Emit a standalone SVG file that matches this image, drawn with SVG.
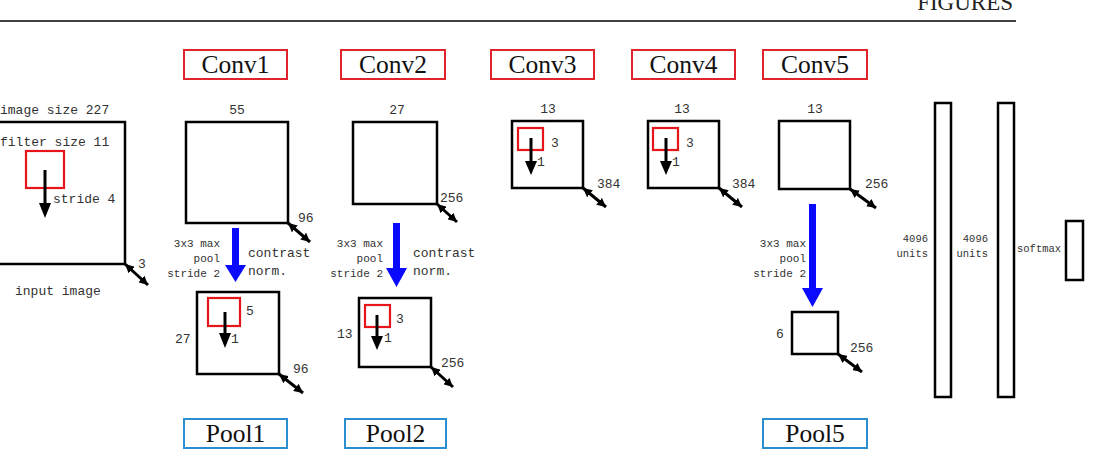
<svg xmlns="http://www.w3.org/2000/svg" width="1093" height="453" viewBox="0 0 1093 453">
<defs>
<marker id="ah" markerUnits="userSpaceOnUse" markerWidth="10" markerHeight="9" refX="9" refY="4.5" orient="auto-start-reverse">
<path d="M0,0 L9,4.5 L0,9 z" fill="#000"/>
</marker>
<style>
.lab{fill:#fff;stroke-width:2}
.conv{stroke:#e0242b}
.pool{stroke:#2a8fd0}
.labt{font-family:"Liberation Serif",serif;font-size:25.5px;fill:#111;text-anchor:middle}
.map{fill:none;stroke:#000;stroke-width:2.5}
.filt{fill:none;stroke:#e8141c;stroke-width:2.2}
.m{font-family:"Liberation Mono",monospace;font-size:13px;fill:#333}
.s{font-family:"Liberation Mono",monospace;font-size:11px;fill:#333}
.xs{font-family:"Liberation Mono",monospace;font-size:10.5px;fill:#333}
.dbl{stroke:#000;stroke-width:3;marker-start:url(#ah);marker-end:url(#ah)}
.stem{stroke:#000;stroke-width:3}
.blue{fill:#0a0aff}
</style>
</defs>
<rect width="1093" height="453" fill="#fff"/>
<g id="header">
<line x1="0" y1="21" x2="1016" y2="21" stroke="#000" stroke-width="1.5"/>
<text x="1013" y="10" text-anchor="end" font-family="Liberation Serif,serif" font-size="23" fill="#222">FIGURES</text>
</g>

<g id="label-conv1"><rect class="lab conv" x="184" y="50" width="103" height="29"/><text class="labt" x="235.5" y="73">Conv1</text></g>
<g id="label-conv2"><rect class="lab conv" x="341" y="50" width="104" height="29"/><text class="labt" x="393" y="73">Conv2</text></g>
<g id="label-conv3"><rect class="lab conv" x="491" y="50" width="103" height="29"/><text class="labt" x="542.5" y="73">Conv3</text></g>
<g id="label-conv4"><rect class="lab conv" x="632" y="50" width="103" height="29"/><text class="labt" x="683.5" y="73">Conv4</text></g>
<g id="label-conv5"><rect class="lab conv" x="763" y="50" width="104" height="29"/><text class="labt" x="815" y="73">Conv5</text></g>
<g id="label-pool1"><rect class="lab pool" x="184" y="419" width="103" height="29"/><text class="labt" x="235.5" y="442">Pool1</text></g>
<g id="label-pool2"><rect class="lab pool" x="345" y="419" width="101" height="29"/><text class="labt" x="395.5" y="442">Pool2</text></g>
<g id="label-pool5"><rect class="lab pool" x="763" y="419" width="104" height="29"/><text class="labt" x="815" y="442">Pool5</text></g>

<g id="input-image">
<rect class="map" x="-20" y="122" width="145" height="142"/>
<text class="m" x="0" y="114">image size 227</text>
<text class="m" x="0" y="146">filter size 11</text>
<rect class="filt" x="26" y="151" width="38" height="37"/>
<line class="stem" x1="45" y1="170" x2="45" y2="205"/>
<polygon points="39,203 51,203 45,218"/>
<text class="m" x="53" y="203">stride 4</text>
<text class="m" x="138" y="268">3</text>
<text class="m" x="15" y="295">input image</text>
</g>

<g id="conv1-map">
<rect class="map" x="186" y="122" width="102" height="101"/>
<text class="m" x="237" y="114" text-anchor="middle">55</text>
<text class="m" x="298" y="222">96</text>
</g>
<g id="conv2-map">
<rect class="map" x="353" y="122" width="84" height="82"/>
<text class="m" x="397" y="114" text-anchor="middle">27</text>
<text class="m" x="440" y="202">256</text>
</g>
<g id="conv3-map">
<rect class="map" x="512" y="121" width="71" height="67"/>
<text class="m" x="548" y="113" text-anchor="middle">13</text>
<rect class="filt" x="518" y="128" width="25" height="22"/>
<line class="stem" x1="531" y1="138" x2="531" y2="162"/>
<polygon points="525,161 537,161 531,175"/>
<text class="m" x="551" y="147">3</text>
<text class="m" x="537" y="166">1</text>
<text class="m" x="597" y="188">384</text>
</g>
<g id="conv4-map">
<rect class="map" x="648" y="121" width="71" height="67"/>
<text class="m" x="682" y="113" text-anchor="middle">13</text>
<rect class="filt" x="653" y="128" width="25" height="22"/>
<line class="stem" x1="666" y1="138" x2="666" y2="162"/>
<polygon points="660,161 672,161 666,175"/>
<text class="m" x="686" y="147">3</text>
<text class="m" x="672" y="166">1</text>
<text class="m" x="732" y="188">384</text>
</g>
<g id="conv5-map">
<rect class="map" x="779" y="121" width="71" height="68"/>
<text class="m" x="815" y="113" text-anchor="middle">13</text>
<text class="m" x="865" y="188">256</text>
</g>

<g id="pool1-map">
<rect class="map" x="197" y="292" width="82" height="82"/>
<rect class="filt" x="208" y="298" width="32" height="28"/>
<line class="stem" x1="225" y1="312" x2="225" y2="335"/>
<polygon points="219,333 231,333 225,348"/>
<text class="m" x="246" y="315">5</text>
<text class="m" x="231" y="343">1</text>
<text class="m" x="175" y="343">27</text>
<text class="m" x="293" y="373">96</text>
</g>
<g id="pool2-map">
<rect class="map" x="359" y="298" width="72" height="69"/>
<rect class="filt" x="365" y="305" width="25" height="22"/>
<line class="stem" x1="377" y1="315" x2="377" y2="337"/>
<polygon points="371,336 383,336 377,350"/>
<text class="m" x="396" y="323">3</text>
<text class="m" x="384" y="342">1</text>
<text class="m" x="337" y="338">13</text>
<text class="m" x="441" y="367">256</text>
</g>
<g id="pool5-map">
<rect class="map" x="792" y="312" width="46" height="42"/>
<text class="m" x="776" y="338">6</text>
<text class="m" x="850" y="352">256</text>
</g>

<g id="fc1">
<rect class="map" x="935" y="103" width="16" height="294"/>
<text class="xs" x="928" y="242" text-anchor="end">4096</text>
<text class="xs" x="928" y="257" text-anchor="end">units</text>
</g>
<g id="fc2">
<rect class="map" x="998" y="103" width="16" height="294"/>
<text class="xs" x="988" y="242" text-anchor="end">4096</text>
<text class="xs" x="988" y="257" text-anchor="end">units</text>
</g>
<g id="softmax">
<rect class="map" x="1066" y="221" width="17" height="59"/>
<text class="xs" x="1017" y="252">softmax</text>
</g>

<g id="connectors">
<line class="dbl" x1="125" y1="264" x2="148" y2="285"/>
<line class="dbl" x1="288" y1="223" x2="310" y2="242"/>
<line class="dbl" x1="437" y1="204" x2="457" y2="222"/>
<line class="dbl" x1="583" y1="188" x2="606" y2="207"/>
<line class="dbl" x1="719" y1="188" x2="742" y2="207"/>
<line class="dbl" x1="850" y1="189" x2="876" y2="208"/>
<line class="dbl" x1="279" y1="374" x2="303" y2="393"/>
<line class="dbl" x1="431" y1="367" x2="453" y2="387"/>
<line class="dbl" x1="838" y1="354" x2="862" y2="372"/>

<polygon class="blue" points="232,228 239,228 239,265 246,265 235.5,282 225,265 232,265"/>
<text class="s" x="220" y="247" text-anchor="end">3x3 max</text>
<text class="s" x="220" y="262" text-anchor="end">pool</text>
<text class="s" x="220" y="277" text-anchor="end">stride 2</text>
<text class="m" x="248" y="257">contrast</text>
<text class="m" x="248" y="275">norm.</text>

<polygon class="blue" points="393,223 400,223 400,268 407,268 396.5,287 386,268 393,268"/>
<text class="s" x="383" y="247" text-anchor="end">3x3 max</text>
<text class="s" x="383" y="262" text-anchor="end">pool</text>
<text class="s" x="383" y="277" text-anchor="end">stride 2</text>
<text class="m" x="413" y="257">contrast</text>
<text class="m" x="413" y="275">norm.</text>

<polygon class="blue" points="809,204 816,204 816,288 823,288 812.5,307 802,288 809,288"/>
<text class="s" x="806" y="247" text-anchor="end">3x3 max</text>
<text class="s" x="806" y="262" text-anchor="end">pool</text>
<text class="s" x="806" y="277" text-anchor="end">stride 2</text>
</g>
</svg>
